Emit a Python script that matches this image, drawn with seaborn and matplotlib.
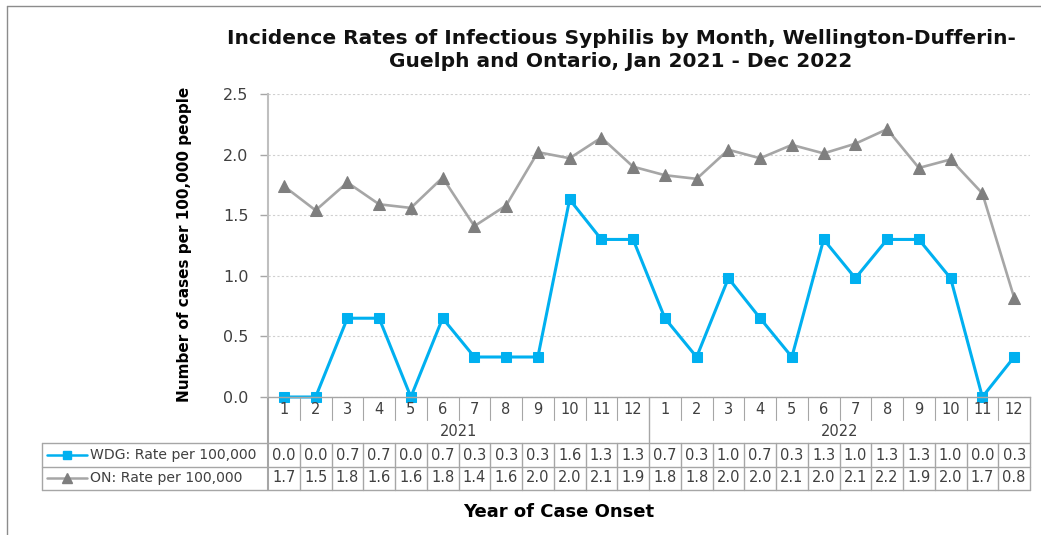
import matplotlib
matplotlib.use("Agg")
import matplotlib.pyplot as plt
import seaborn as sns
import pandas as pd
from matplotlib.lines import Line2D
from matplotlib.transforms import blended_transform_factory

# Data
months = [str(m) for m in range(1, 13)] * 2
years = ['2021', '2022']
wdg_rate = [0.0, 0.0, 0.65, 0.65, 0.0, 0.65, 0.33, 0.33, 0.33, 1.63, 1.30, 1.30,
            0.65, 0.33, 0.98, 0.65, 0.33, 1.30, 0.98, 1.30, 1.30, 0.98, 0.0, 0.33]
on_rate = [1.74, 1.54, 1.77, 1.59, 1.56, 1.81, 1.41, 1.58, 2.02, 1.97, 2.14, 1.90,
           1.83, 1.80, 2.04, 1.97, 2.08, 2.01, 2.09, 2.21, 1.89, 1.96, 1.68, 0.82]
wdg_table = ['0.0', '0.0', '0.7', '0.7', '0.0', '0.7', '0.3', '0.3', '0.3', '1.6', '1.3', '1.3',
             '0.7', '0.3', '1.0', '0.7', '0.3', '1.3', '1.0', '1.3', '1.3', '1.0', '0.0', '0.3']
on_table = ['1.7', '1.5', '1.8', '1.6', '1.6', '1.8', '1.4', '1.6', '2.0', '2.0', '2.1', '1.9',
            '1.8', '1.8', '2.0', '2.0', '2.1', '2.0', '2.1', '2.2', '1.9', '2.0', '1.7', '0.8']
series_names = ['WDG: Rate per 100,000', 'ON: Rate per 100,000']

BLUE = '#00B0F0'
GREY_LINE = '#A6A6A6'
GREY_MARK = '#7F7F7F'
GRID = '#A6A6A6'
TXT = '#404040'

W, H = 1041, 535
sns.set_theme(style='white')
plt.rcParams['font.family'] = ['DejaVu Sans']

fig = plt.figure(figsize=(W / 100, H / 100), dpi=100)
L, R, T, B = 268, 1030, 94, 397
ax = fig.add_axes([L / W, 1 - B / H, (R - L) / W, (B - T) / H])

df = pd.DataFrame({'pos': range(len(months)), 'WDG': wdg_rate, 'ON': on_rate})
sns.lineplot(data=df, x='pos', y='ON', ax=ax, color=GREY_LINE, lw=1.9,
             marker='^', markersize=8, markerfacecolor=GREY_MARK,
             markeredgecolor=GREY_MARK, clip_on=False)
sns.lineplot(data=df, x='pos', y='WDG', ax=ax, color=BLUE, lw=2.2,
             marker='s', markersize=7, markerfacecolor=BLUE,
             markeredgecolor=BLUE, clip_on=False)

ax.set_xlim(-0.5, len(months) - 0.5)
ax.set_ylim(0, 2.5)
ax.set_yticks([0, 0.5, 1.0, 1.5, 2.0, 2.5])
ax.set_yticklabels(['%.1f' % v for v in [0, 0.5, 1.0, 1.5, 2.0, 2.5]], fontsize=11.5, color=TXT)
ax.set_xticks([])
ax.set_xlabel('')
ax.set_ylabel('')
ax.tick_params(axis='y', length=6, width=1, color=GRID, direction='out', pad=8, left=True)
ax.yaxis.grid(True, linestyle=(0, (2, 2)), color='#D0D0D0', lw=0.8)
for s in ['top', 'right']:
    ax.spines[s].set_visible(False)
ax.spines['left'].set_color('#BFBFBF')
ax.spines['left'].set_linewidth(1.5)
ax.spines['bottom'].set_color(GRID)
ax.spines['bottom'].set_linewidth(1)
ax.set_axisbelow(True)

# ---- data table under the axis ----
trans = blended_transform_factory(ax.transData, ax.transAxes)


def fy(py):
    return (B - py) / (B - T)


def vline(x, y0, y1, lw=1.0):
    ax.add_line(Line2D([x, x], [fy(y0), fy(y1)], transform=trans, color=GRID,
                       lw=lw, clip_on=False))


def hline_px(y, x0, x1):
    fig.add_artist(Line2D([x0 / W, x1 / W], [1 - y / H, 1 - y / H],
                          transform=fig.transFigure, color=GRID, lw=1.0))


n = len(months)
for i in range(n):
    ax.text(i, fy(409), months[i], transform=trans, ha='center', va='center',
            fontsize=10.5, color=TXT)
    ax.text(i, fy(455), wdg_table[i], transform=trans, ha='center', va='center',
            fontsize=10.5, color=TXT)
    ax.text(i, fy(478), on_table[i], transform=trans, ha='center', va='center',
            fontsize=10.5, color=TXT)
for k, yr in enumerate(years):
    ax.text(k * 12 + 5.5, fy(431), yr, transform=trans, ha='center', va='center',
            fontsize=10.5, color=TXT)

for i in range(n - 1):
    if i == 11:
        vline(i + 0.5, 397, 490)
    else:
        vline(i + 0.5, 397, 420, lw=0.8)
        vline(i + 0.5, 443, 490)
vline(-0.5, 397, 490, lw=1.5)
vline(n - 0.5, 397, 490)

hline_px(443, 42, R)
hline_px(466.5, 42, R)
hline_px(490, 42, R)
fig.add_artist(Line2D([42 / W, 42 / W], [1 - 443 / H, 1 - 490 / H],
                      transform=fig.transFigure, color=GRID, lw=1.0))

# legend keys in the table's first column
for yk, name, col, mk, mc, ms in [(455, series_names[0], BLUE, 's', BLUE, 6),
                                  (478, series_names[1], GREY_LINE, '^', GREY_MARK, 7)]:
    fig.add_artist(Line2D([47 / W, 87 / W], [1 - yk / H, 1 - yk / H],
                          transform=fig.transFigure, color=col, lw=1.8))
    fig.add_artist(Line2D([67 / W], [1 - yk / H], transform=fig.transFigure,
                          marker=mk, markersize=ms, color=mc, lw=0))
    fig.text(90 / W, 1 - yk / H, name, ha='left', va='center', fontsize=10.1, color=TXT)

# outer frame of the chart area
fig.add_artist(Line2D([7 / W, 7 / W], [1 - 6 / H, 0], transform=fig.transFigure,
                      color='#8C8C8C', lw=1.0))
fig.add_artist(Line2D([7 / W, 1], [1 - 6 / H, 1 - 6 / H], transform=fig.transFigure,
                      color='#8C8C8C', lw=1.0))

# titles and axis labels
fig.text(621 / W, 1 - 50 / H,
         'Incidence Rates of Infectious Syphilis by Month, Wellington-Dufferin-\n'
         'Guelph and Ontario, Jan 2021 - Dec 2022',
         ha='center', va='center', fontsize=14.5, fontweight='bold',
         linespacing=1.3, color='#111111')
fig.text(185 / W, 1 - 244 / H, 'Number of cases per 100,000 people', rotation=90,
         ha='center', va='center', fontsize=11, fontweight='bold', color='black')
fig.text(559 / W, 1 - 512 / H, 'Year of Case Onset', ha='center', va='center',
         fontsize=13, fontweight='bold', color='black')

fig.savefig('out.png', dpi=100)
